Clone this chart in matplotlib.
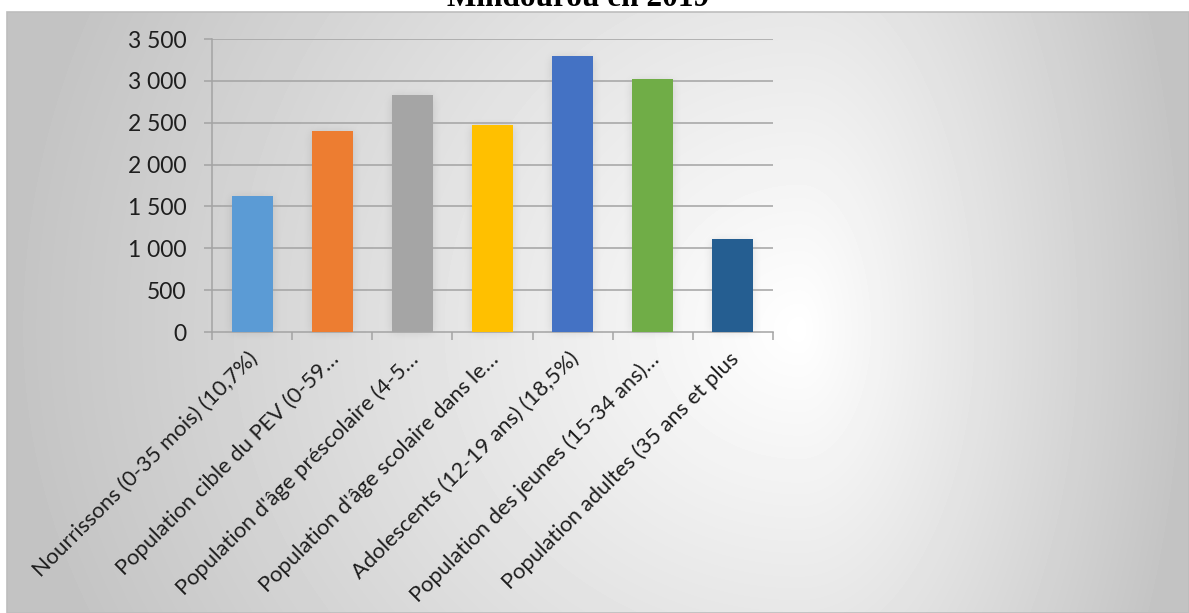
import numpy as np
import matplotlib
matplotlib.use("Agg")
import matplotlib.pyplot as plt
from matplotlib.patches import Rectangle
from matplotlib.ticker import FixedLocator, FuncFormatter
import matplotlib.transforms as mtransforms

# Effectifs par tranche d'âge
categories = [
    "Nourrissons (0-35 mois) (10,7%)",
    "Population cible du PEV (0-59…",
    "Population d'âge préscolaire (4-5…",
    "Population d'âge scolaire dans le…",
    "Adolescents (12-19 ans) (18,5%)",
    "Population des jeunes (15-34 ans)…",
    "Population adultes (35 ans et plus",
]
values = [1626, 2401, 2829, 2473, 3296, 3020, 1111]
bar_colors = ["#5B9BD5", "#ED7D31", "#A5A5A5", "#FFC000",
              "#4472C4", "#70AD47", "#255E91"]
y_ticks = [0, 500, 1000, 1500, 2000, 2500, 3000, 3500]
title = "Mindourou en 2019"

W, H = 1189, 613
plt.rcParams["font.family"] = ["Lato", "DejaVu Sans"]

fig = plt.figure(figsize=(W / 100, H / 100), dpi=100)
fig.patch.set_facecolor("white")

# background layer in pixel coordinates (y downwards)
bg = fig.add_axes([0, 0, 1, 1], zorder=0)
bg.set_xlim(0, W)
bg.set_ylim(H, 0)
bg.axis("off")

# chart area: off-centre radial gradient, white centre to grey edges
x0, y0, x1, y1 = 7, 12, W, H
cx, cy = 800, 330
xx, yy = np.meshgrid(np.arange(x0, x1) + 0.5, np.arange(y0, y1) + 0.5)
u = np.where(xx < cx, (xx - cx) / (cx - x0), (xx - cx) / (x1 - cx))
v = np.where(yy < cy, (yy - cy) / (cy - y0), (yy - cy) / (y1 - cy))
r = np.clip(np.sqrt(u ** 2 + (0.4 * v) ** 2), 0, 1)
shade = (255 - 60 * r) / 255.0
bg.imshow(shade, cmap="gray", vmin=0, vmax=1, extent=(x0, x1, y1, y0),
          interpolation="bilinear", zorder=1)
bg.add_patch(Rectangle((x0, y0), x1 - x0, y1 - y0, fill=False,
                       edgecolor="#bdbdbd", linewidth=1.2, zorder=3))

# plot area
px0, px1, py_top, py_bot = 212, 773, 39, 332
ax = fig.add_axes([px0 / W, 1 - py_bot / H, (px1 - px0) / W, (py_bot - py_top) / H],
                  zorder=2)
ax.patch.set_alpha(0)

x = np.arange(len(values))
ax.set_xlim(-0.5, len(values) - 0.5)
ax.set_ylim(0, 3500)

for yt in y_ticks[1:]:
    ax.axhline(yt, color="#a3a3a3", linewidth=1.1, zorder=1)

bars = ax.bar(x, values, width=0.51, color=bar_colors, zorder=3)

# soft shadow around each bar
mask = np.zeros((H, W))
for b in bars:
    (bx0, by0), (bx1, by1) = ax.transData.transform(
        [(b.get_x(), 0), (b.get_x() + b.get_width(), b.get_height())])
    mask[int(round(H - by1)) + 2:int(round(H - by0)),
         int(round(bx0)):int(round(bx1))] = 1.0


def box_blur(a, k):
    pad = k // 2
    for axis in (0, 1):
        p = np.pad(a, [(pad, pad) if i == axis else (0, 0) for i in range(2)],
                   mode="constant")
        c = np.cumsum(p, axis=axis)
        c = np.concatenate([np.zeros_like(np.take(c, [0], axis=axis)), c], axis=axis)
        a = (np.take(c, range(k, c.shape[axis]), axis=axis)
             - np.take(c, range(0, c.shape[axis] - k), axis=axis)) / k
    return a


blur = mask
for _ in range(3):
    blur = box_blur(blur, 9)
shadow = np.zeros((H, W, 4))
shadow[..., 3] = 0.12 * blur
bg.imshow(shadow, extent=(0, W, H, 0), interpolation="bilinear", zorder=2)

# axes styling
for s in ("top", "right"):
    ax.spines[s].set_visible(False)
for s in ("left", "bottom"):
    ax.spines[s].set_color("#a3a3a3")
    ax.spines[s].set_linewidth(1.1)

ax.yaxis.set_major_locator(FixedLocator(y_ticks))
ax.yaxis.set_major_formatter(FuncFormatter(lambda v, p: f"{v:,.0f}".replace(",", " ")))
ax.tick_params(axis="y", direction="out", length=5.5, width=1.1, color="#a3a3a3",
               pad=13, labelsize=16.5, labelcolor="#1e1e1e")

ax.xaxis.set_major_locator(FixedLocator(x))
ax.xaxis.set_minor_locator(FixedLocator(np.arange(len(values) + 1) - 0.5))
ax.set_xticklabels([])
ax.tick_params(axis="x", which="major", length=0)
ax.tick_params(axis="x", which="minor", direction="out", length=5.5, width=1.1,
               color="#a3a3a3")

offset = mtransforms.ScaledTranslation(-3 / 72, -12 / 72, fig.dpi_scale_trans)
lab_tr = ax.get_xaxis_transform() + offset
for xi, lab in zip(x, categories):
    ax.text(xi, 0, lab, transform=lab_tr, rotation=45, rotation_mode="anchor",
            ha="right", va="top", fontsize=15.8, color="#1e1e1e", clip_on=False)

fig.text(578 / W, 1 - 6 / H, title, ha="center", va="baseline", fontsize=22.5,
         fontweight="bold", family=["Liberation Serif", "DejaVu Serif"], color="black")

fig.savefig("out.png", dpi=100, facecolor="white")
